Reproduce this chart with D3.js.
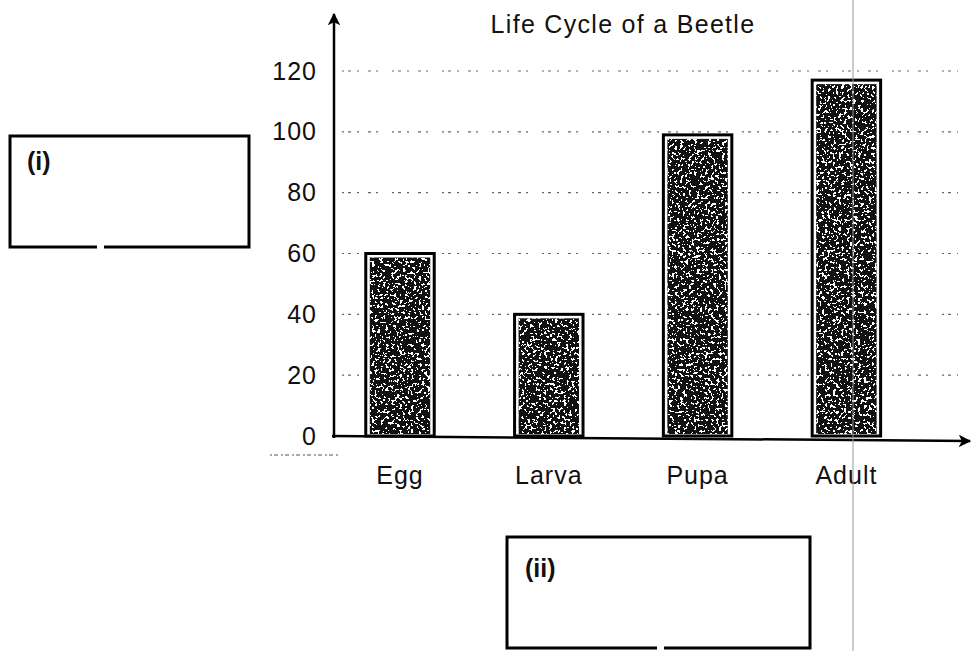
<!DOCTYPE html>
<html>
<head>
<meta charset="utf-8">
<script src="https://cdn.jsdelivr.net/npm/d3@7"></script>
<style>
  html, body { margin: 0; padding: 0; background: #fff; }
  svg { display: block; font-family: "Liberation Sans", Arial, sans-serif; }
</style>
</head>
<body>
<svg id="chart" width="973" height="651"></svg>
<script>
// Stages of the beetle life cycle and their values
const stages = ["Egg", "Larva", "Pupa", "Adult"];
const values = [60, 40, 99, 117];
const yTicks = [0, 20, 40, 60, 80, 100, 120];
const chartTitle = "Life Cycle of a Beetle";
const boxLabels = ["(i)", "(ii)"];

const svg = d3.select("#chart");
const defs = svg.append("defs");

// arrow head for the axes
defs.append("marker")
  .attr("id", "arrow")
  .attr("viewBox", "0 0 10 10")
  .attr("refX", 9).attr("refY", 5)
  .attr("markerWidth", 5).attr("markerHeight", 5)
  .attr("markerUnits", "strokeWidth")
  .attr("orient", "auto")
  .append("path").attr("d", "M0,0 L10,5 L0,10 L2.5,5 Z").attr("fill", "#000");

// speckled grain used inside the bars
const grain = defs.append("filter").attr("id", "grain")
  .attr("x", 0).attr("y", 0).attr("width", 1).attr("height", 1);
grain.append("feTurbulence").attr("type", "fractalNoise")
  .attr("baseFrequency", 0.36).attr("numOctaves", 2).attr("seed", 7).attr("result", "noise");
grain.append("feColorMatrix").attr("in", "noise").attr("type", "matrix")
  .attr("values", "0 0 0 0 0  0 0 0 0 0  0 0 0 0 0  1 0 0 0 0").attr("result", "na");
const ct = grain.append("feComponentTransfer").attr("in", "na").attr("result", "mask");
ct.append("feFuncA").attr("type", "discrete")
  .attr("tableValues", "0 0 0 0 0 0 0 0 0 0 0 0 1 1 1 1 1 1 1 1");
grain.append("feComposite").attr("in", "SourceGraphic").attr("in2", "mask").attr("operator", "in");

const x0 = 334, yBase = 436;
const x = d3.scaleBand().domain(stages).range([325.6, 920.8])
  .paddingInner(0.54).paddingOuter(0.27);
const y = d3.scaleLinear().domain([0, 120]).range([yBase, 71]);

const textStyle = sel => sel
  .attr("font-size", 25).attr("letter-spacing", 1).attr("fill", "#111");

// title
svg.append("text").attr("x", 623).attr("y", 33)
  .attr("text-anchor", "middle").call(textStyle).attr("letter-spacing", 1.3)
  .text(chartTitle);

// dotted gridlines
svg.append("g").selectAll("line")
  .data(yTicks.filter(d => d > 0))
  .join("line")
  .attr("x1", x0 + 8).attr("x2", 958)
  .attr("y1", d => y(d)).attr("y2", d => y(d))
  .attr("stroke", "#666").attr("stroke-width", 1.2)
  .attr("stroke-dasharray", "2 4 3 6 2 9 3 5 2 14");

// y tick labels
const yAxis = svg.append("g").attr("transform", `translate(${x0 - 17},0)`)
  .call(d3.axisLeft(y).tickValues(yTicks).tickSize(0).tickPadding(0));
yAxis.select(".domain").remove();
yAxis.selectAll("text").attr("font-family", "Liberation Sans, Arial, sans-serif")
  .call(textStyle);

// bars: black frame, thin white margin, speckled fill
const bars = svg.append("g").selectAll("g").data(stages).join("g");
bars.append("rect")
  .attr("x", d => x(d)).attr("width", x.bandwidth())
  .attr("y", (d, i) => y(values[i])).attr("height", (d, i) => yBase - y(values[i]))
  .attr("fill", "#fff").attr("stroke", "#000").attr("stroke-width", 3);
bars.append("rect")
  .attr("x", d => x(d) + 4).attr("width", x.bandwidth() - 8)
  .attr("y", (d, i) => y(values[i]) + 4).attr("height", (d, i) => yBase - y(values[i]) - 6)
  .attr("fill", "#111");
bars.append("rect")
  .attr("x", d => x(d) + 4).attr("width", x.bandwidth() - 8)
  .attr("y", (d, i) => y(values[i]) + 4).attr("height", (d, i) => yBase - y(values[i]) - 6)
  .attr("fill", "#fff").attr("filter", "url(#grain)");

// category labels
svg.append("g").selectAll("text").data(stages).join("text")
  .attr("x", d => x(d) + x.bandwidth() / 2).attr("y", 484)
  .attr("text-anchor", "middle").call(textStyle)
  .text(d => d);

// axes with arrow heads
svg.append("line").attr("x1", x0).attr("y1", yBase + 2).attr("x2", x0).attr("y2", 14)
  .attr("stroke", "#000").attr("stroke-width", 2.5).attr("marker-end", "url(#arrow)");
svg.append("line").attr("x1", x0 - 2).attr("y1", yBase).attr("x2", 970).attr("y2", yBase + 5)
  .attr("stroke", "#000").attr("stroke-width", 2.5).attr("marker-end", "url(#arrow)");

// short dotted stroke below the origin
svg.append("line").attr("x1", 270).attr("x2", 340).attr("y1", 455).attr("y2", 455)
  .attr("stroke", "#555").attr("stroke-width", 1.2).attr("stroke-dasharray", "2 2 4 3");

// thin vertical rule through the Adult column
svg.append("line").attr("x1", 853).attr("x2", 853).attr("y1", 0).attr("y2", 651)
  .attr("stroke", "#999").attr("stroke-width", 1);

// answer boxes with a small gap in the bottom edge
function answerBox(bx, by, bw, bh, gapX, gapW, label, lx, ly) {
  const g = svg.append("g").attr("fill", "none").attr("stroke", "#000").attr("stroke-width", 3);
  g.append("path").attr("d",
    `M${gapX},${by + bh} L${bx},${by + bh} L${bx},${by} L${bx + bw},${by} L${bx + bw},${by + bh} L${gapX + gapW},${by + bh}`);
  svg.append("text").attr("x", bx + lx).attr("y", by + ly)
    .attr("font-size", 25).attr("font-weight", "bold").attr("fill", "#111").text(label);
}
answerBox(10, 136, 239, 111, 97, 7, boxLabels[0], 17, 34);
answerBox(507, 537, 303, 111, 657, 7, boxLabels[1], 18, 40);
</script>
</body>
</html>
